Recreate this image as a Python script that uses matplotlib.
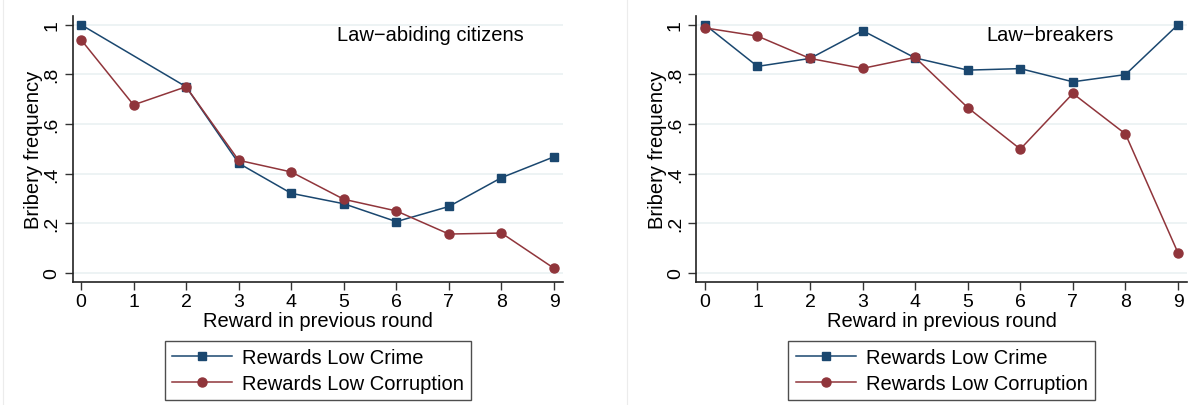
import matplotlib
matplotlib.use("Agg")
import matplotlib.pyplot as plt
from matplotlib.lines import Line2D

plt.rcParams['font.family'] = ['Liberation Sans', 'DejaVu Sans']

NAVY = '#1a476f'
MAROON = '#90353b'

rounds = list(range(10))

# law-abiding citizens (no low-crime observation at reward 1)
lawful_crime_x = [0, 2, 3, 4, 5, 6, 7, 8, 9]
lawful_crime = [1.0, 0.750, 0.442, 0.321, 0.279, 0.207, 0.268, 0.384, 0.468]
lawful_corrupt = [0.940, 0.677, 0.750, 0.454, 0.407, 0.297, 0.250, 0.157, 0.161, 0.019]

# law-breakers
breaker_crime = [1.0, 0.832, 0.864, 0.976, 0.866, 0.817, 0.823, 0.770, 0.799, 1.0]
breaker_corrupt = [0.987, 0.954, 0.864, 0.824, 0.868, 0.666, 0.499, 0.723, 0.560, 0.081]

yticks = [0, 0.2, 0.4, 0.6, 0.8, 1.0]
ytick_labels = ['0', '.2', '.4', '.6', '.8', '1']

panels = [
    ('Law\u2212abiding citizens', lawful_crime_x, lawful_crime, rounds, lawful_corrupt,
     [0.0609, 0.303, 0.4118, 0.6552], 0.539),
    ('Law\u2212breakers', rounds, breaker_crime, rounds, breaker_corrupt,
     [0.5848, 0.303, 0.4118, 0.6552], 0.592),
]

fig = plt.figure(figsize=(11.91, 4.06), dpi=100)

# faint borders of the two graph regions
for xf in (3 / 1191, 627 / 1191):
    fig.add_artist(Line2D([xf, xf], [0, 1], color='#ececec', lw=0.8))

for title, cx, cy, rx, ry, rect, tx in panels:
    ax = fig.add_axes(rect)
    for y in yticks:
        ax.axhline(y, color='#eaf1f2', lw=1.2, zorder=0)
    ax.plot(cx, cy, color=NAVY, lw=1.1, marker='s', ms=6.3, label='Rewards Low Crime')
    ax.plot(rx, ry, color=MAROON, lw=1.1, marker='o', ms=6.5, label='Rewards Low Corruption')

    ax.set_xlim(-0.16, 9.17)
    ax.set_ylim(-0.036, 1.035)
    ax.set_xticks(rounds)
    ax.set_yticks(yticks)
    ax.set_yticklabels(ytick_labels, rotation=90, va='center')
    ax.tick_params(axis='both', labelsize=14, length=6, width=1, color='#333333')
    ax.tick_params(axis='x', pad=2)
    ax.tick_params(axis='y', pad=3)
    for side in ('top', 'right'):
        ax.spines[side].set_visible(False)
    for side in ('left', 'bottom'):
        ax.spines[side].set_linewidth(1.2)
        ax.spines[side].set_color('#222222')

    ax.set_xlabel('Reward in previous round', fontsize=14.5, labelpad=1)
    ax.set_ylabel('Bribery frequency', fontsize=14.5, labelpad=0)
    ax.text(tx, 0.932, title, transform=ax.transAxes, fontsize=14.5,
            ha='left', va='center')

    leg = ax.legend(loc='upper center', bbox_to_anchor=(0.5, -0.222), ncol=1,
                    fontsize=14.5, frameon=True, fancybox=False, handlelength=3.0,
                    handletextpad=0.5, borderpad=0.35, labelspacing=0.35,
                    borderaxespad=0)
    leg.get_frame().set_edgecolor('#222222')
    leg.get_frame().set_linewidth(1.0)

fig.savefig('out.png', dpi=100)
